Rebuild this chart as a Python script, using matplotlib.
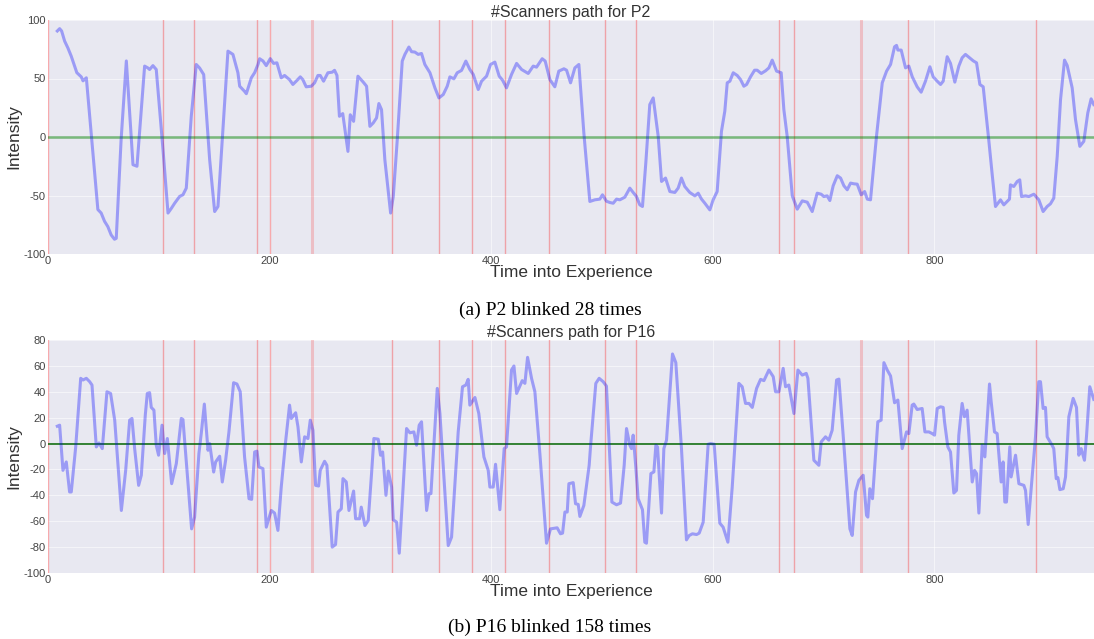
import matplotlib
matplotlib.use("Agg")
import matplotlib.pyplot as plt

plt.rcParams['font.family'] = ['Liberation Sans', 'DejaVu Sans']
plt.rcParams['axes.unicode_minus'] = False

# ---------------- data ----------------
blink_times = [0, 103.8, 131.7, 188.6, 200.3, 238.1, 310.4, 352.8, 382.6,
               412.3, 452.0, 502.6, 530.5, 659.6, 673.1, 733.6, 776.0, 891.4]
wide_blinks = [238.1, 733.6]

p2_t = [8.4, 10.5, 12.3, 15, 18, 21, 24, 26, 30, 31.6, 34.6, 39, 45, 48, 51, 54, 57, 60, 61.6,
        66, 70.7, 76.7, 80.3, 87.2, 90.2, 91.7, 94.7, 97.7, 103.8, 108.3, 111.3, 114.3, 118.8,
        121.8, 124.8, 129.3, 133.8, 136.8, 140.5, 145.9, 150.4, 153.4, 162.4, 166.9, 171.4, 173,
        177.4, 179, 183.5, 186.5, 189.5, 191, 194, 197, 200.6, 203.6, 206.6, 210.5, 213.5, 218,
        221, 224, 227.7, 230, 233, 237.6, 240.6, 243.6, 245.7, 248.7, 252.6, 256.5, 258.6, 260.8,
        263, 266, 270.7, 272.8, 275.8, 279.7, 284.5, 287.5, 290.5, 293.5, 296.5, 298.6, 301, 304,
        309.2, 311.6, 315.2, 319.7, 322.1, 325.7, 328.1, 331.1, 334.1, 337.1, 340.1, 344.7, 349.2,
        352.8, 356.7, 360.3, 362.7, 366.3, 369.3, 373.2, 377.1, 380.7, 383.8, 388.3, 391.3, 395.8,
        399.4, 403.3, 407.2, 410.2, 413.8, 418.3, 422.9, 427.4, 433.4, 437.9, 440.9, 446, 448.7,
        452.9, 457.4, 461, 465.6, 468, 471.6, 475.5, 479.1, 483.6, 489, 493.5, 498, 500.4, 504,
        507.1, 510.1, 513.1, 516.1, 520.6, 525.1, 528.1, 531.1, 534.1, 536.5, 539.5, 543.1, 546.2,
        550.7, 553.7, 557.3, 561.2, 565.7, 568.7, 571.7, 574.7, 579.2, 583.8, 586.8, 589.8, 592.8,
        597.3, 600.3, 603.9, 607.8, 610.8, 613, 615.4, 618.4, 622, 625, 628, 630.5, 634, 637.7,
        640, 643.7, 647.6, 650.6, 653.6, 655.1, 657.5, 661.7, 664.1, 667.1, 671.7, 676.2, 680.7,
        685.2, 689.7, 694.2, 697.8, 700.2, 703.2, 705.6, 708.6, 712.3, 715.3, 718.3, 721.3, 724.3,
        727.3, 730.3, 733.9, 737, 739.4, 742.3, 747.7, 752.9, 756.8, 760.4, 764, 765.8, 767, 770,
        773.9, 776.9, 780, 784.4, 788, 791.9, 795.9, 798.9, 802.5, 805.5, 807.9, 811.5, 814.5,
        818.4, 822, 825, 828, 832, 835, 838, 841, 844, 849, 852, 855.1, 859.6, 862.6, 865.6, 867.7,
        868.6, 871.6, 874.7, 877, 878.6, 882.2, 885.2, 889.7, 894.2, 898.1, 901.7, 904.7, 907.7,
        910.8, 913.8, 917.4, 919.8, 924.3, 927.3, 931.2, 934.8, 938.4, 941.4, 943.8]
p2_val = [90.6, 92.6, 90.6, 82, 76, 69, 60.6, 55, 51.4, 48, 50.6, 3.4, -62, -65, -72, -76.6, -83.7,
          -87.4, -86.6, -2, 65, -23.7, -25, 60.6, 59, 57.7, 61, 57.7, -11, -65, -61, -56.6, -50.8,
          -49.4, -43.7, 17.7, 62, 59, 53.4, -19.4, -63.7, -59.4, 73.4, 70.6, 54.9, 43.4, 39, 37,
          50.6, 55, 62, 66.9, 65, 61, 67, 62.9, 63.4, 50.6, 52.6, 49, 44.9, 47.7, 51.4, 49, 42.9,
          43.4, 46.3, 52.6, 52.6, 47.7, 54.9, 55.4, 57, 52.6, 17.7, 20, -12.3, 19, 13.4, 52, 46.9,
          43.4, 9.1, 12, 16.3, 28.6, 23.4, -19.4, -65, -50.9, -2.3, 64.9, 70.6, 76.9, 72.9, 72.6,
          70.6, 71.4, 62, 54.9, 42, 33.4, 36.3, 43.4, 51.4, 49.7, 54.9, 56.9, 64.9, 57.7, 53.4,
          40.6, 47.7, 52, 62, 64, 52, 48.6, 42, 53.4, 62.9, 57.7, 54.3, 60.6, 59.7, 66.9, 64.9,
          49.1, 42.9, 56.3, 58.3, 57.1, 46.3, 59.1, 62, 3.4, -55.1, -53.7, -53.1, -49.4, -54.9,
          -56, -56.6, -53.1, -53.7, -51.4, -43.7, -47.4, -50.9, -58, -59.4, -22.3, 27.7, 33.4, 0.6,
          -38, -35.1, -46.6, -47.4, -43.7, -35.1, -42.3, -47.4, -50.3, -48, -53.1, -56.6, -62.3,
          -53.7, -46.6, 4.9, 22, 46.3, 47.7, 54.9, 52.6, 49.1, 43.4, 44.9, 51.4, 57.1, 57.1, 54.3,
          56.6, 59.1, 65.7, 62, 56.3, 54.9, 23.4, 0.6, -50.3, -61.7, -54.6, -55.7, -63.7, -48,
          -48.9, -50.9, -50.3, -54.3, -41.7, -33.1, -35.1, -41.7, -45.1, -39.4, -40, -40.3, -49.4,
          -46.6, -53.1, -53.7, 0.6, 46.3, 56.3, 62, 77.1, 78.3, 74.3, 74.3, 59.1, 60.6, 51.4, 42.9,
          38.3, 47.7, 60, 51.4, 47.7, 44.9, 47.7, 68.6, 62.9, 46.9, 60.6, 67.7, 70.6, 67.4, 65.1,
          63.4, 44.9, 42.9, -2.3, -30.9, -59.4, -53.7, -58, -55.1, -53.1, -40.9, -42.3, -38, -36.6,
          -50.9, -50.3, -50.9, -48.9, -53.7, -63.7, -59.4, -57.1, -52.3, -16.6, 32, 65.7, 61.1, 42,
          14.9, -8, -3.7, 20.6, 32.6, 27.7]

p16_t = [8.4, 10.5, 13.5, 16.5, 19.5, 21, 25, 29.5, 31.6, 34.6, 37.6, 39.7, 43.6, 46, 49, 53.2,
         56.5, 60.2, 66.2, 70.1, 73.7, 75.8, 78.2, 81.8, 84.2, 87.8, 89.6, 91.7, 93.2, 95.6, 97.7,
         99.8, 102.9, 105.3, 107.7, 111.6, 115.8, 120.3, 121.8, 125.7, 129.6, 132.3, 136.2, 138.3,
         141.1, 144.4, 145.9, 149.5, 151.3, 154.9, 157.3, 160.3, 163.3, 167.5, 170.5, 173.5, 177.4,
         181.4, 183.8, 186.5, 188.6, 190.4, 194, 197, 201.5, 204.5, 207.5, 210.5, 214.4, 218,
         219.6, 223.5, 225.6, 228.6, 231.6, 234.6, 236.7, 239.1, 241.5, 244.2, 245.7, 249.6, 251.7,
         256.5, 259.5, 261.7, 264.7, 266.2, 269.2, 271.6, 275.8, 277.6, 281.2, 282.7, 286, 289, 292,
         294.1, 298, 300.1, 302, 305, 307.1, 310.1, 311.6, 314.6, 317, 323.6, 326.6, 330.2, 332.6,
         335, 337.1, 341.7, 343.8, 345.6, 351.3, 353.7, 361.2, 364.2, 370.2, 374.1, 377.1, 379.2,
         380.7, 385.3, 388.8, 393.4, 397.3, 398.8, 401.8, 403.9, 407.8, 411.7, 413.8, 418.3, 420.5,
         422.9, 428, 430.4, 432.8, 436.4, 439.4, 443.9, 449.9, 453.5, 459.5, 462.5, 464.4, 466.5,
         468.6, 470.1, 474, 476.1, 478.5, 480, 483.6, 488.4, 489.6, 494.4, 497.4, 501, 504, 508.9,
         513.1, 516.7, 520, 522.1, 525.1, 526.6, 528.1, 530.5, 532.6, 536.5, 538.6, 540.1, 544.1,
         546.8, 548.6, 550.1, 553.7, 555.8, 558.2, 563.6, 566.6, 571.7, 576.2, 578.6, 581.6, 585.3,
         587.7, 591.3, 595.8, 597.9, 601.2, 606.3, 609.3, 613.6, 617.5, 623.5, 626.5, 629.5, 632.6,
         635.6, 639.5, 643.1, 646.1, 650.6, 654.5, 656.6, 659.6, 663.5, 665.6, 668.6, 673.2, 676.8,
         680.7, 684.3, 685.8, 691.2, 695.7, 697.8, 701.7, 704.7, 707.7, 711.7, 713.8, 718.3, 723.7,
         725.8, 728.8, 731.8, 735.7, 738.7, 739.9, 741.7, 744.1, 748.9, 751.9, 754.4, 757.4, 760.4,
         764, 767, 770.9, 774.8, 776.9, 779.9, 781.4, 784.4, 788.9, 791.4, 795, 798, 800.1, 802.5,
         805.5, 807.9, 809.1, 812.1, 814.5, 817.5, 819.9, 822, 825, 827.1, 829.5, 834.1, 836.2, 838,
         840.1, 843.1, 845.5, 849.7, 851.2, 854.2, 856.6, 860.2, 862, 863.5, 865, 868, 869.2, 873.2,
         876.2, 880.7, 882.2, 884.6, 887.3, 891.2, 894.2, 895.7, 898.1, 900.2, 901.7, 906.2, 907.7,
         909.9, 911.4, 913.2, 916.2, 918.3, 921.3, 925.2, 928.2, 930.3, 932.4, 935.4, 937.2, 940.2,
         943.8]
p16_val = [13.4, 14.2, -20.7, -14.2, -37.4, -37.4, -2.6, 50.4, 49.1, 50.4, 47.8, 45.2, -2.6, 0.5,
           -3.9, 40, 38.7, 18.1, -51.7, -20.7, 18.1, 19.4, -3.9, -32.3, -24.5, 22, 38.7, 39.3, 27.9,
           25.8, -1.3, -9, 14.2, -7.7, 3.9, -31, -15.5, 19.4, 18.6, -23.2, -65.9, -56.8, -7.7, 7.7,
           30.5, -5.2, 0, -22, -14.2, -9.8, -29.7, -12.9, 9, 47, 46, 40, -10.3, -42.6, -43.1, -6.5,
           -5.9, -18.1, -19.4, -64.6, -51.7, -53.7, -67.1, -33.6, 1.3, 29.7, 19.4, 23.8, 12.9, -14.2,
           5.2, 3.9, 18.1, 10.3, -32.3, -32.8, -20.7, -13.7, -16.8, -80, -78, -52.9, -50.4, -27.1,
           -29.7, -51.7, -36.7, -58.1, -58.1, -49.1, -63.3, -59.4, -23.2, 3.9, 3.4, -9, -6.5, -40,
           -21.2, -33.6, -58.9, -60.7, -84.7, 11.6, 8.3, 9, -1.3, 14.2, 16.8, -51.7, -38.7, -38.7,
           42.6, 23.2, -78.8, -72.3, 9, 43.9, 45.2, 49.6, 29.7, 35.6, 23.2, -10.3, -20.7, -33.6,
           -33.6, -16, -51.1, -3.9, -2.6, 56.8, 59.9, 38.7, 48.6, 46.5, 66.6, 50.4, 40, -7.7, -77,
           -65.9, -65.1, -69.7, -69.2, -52.9, -52.9, -31, -30.2, -46.5, -47, -56.3, -47.8, -16.8,
           -2.6, 46.5, 50.4, 47.8, 44.4, -45.2, -47.3, -46, -16.8, 11.6, -1.3, -3.9, 6.5, -18.1,
           -42.6, -51.1, -76.2, -77, -23.2, -21.9, -1.3, -2.6, -53.7, -3.9, 2.6, 69.2, 62.5, -3.9,
           -74.4, -71.1, -69.7, -70.3, -69.2, -60.7, -0.5, 0, -0.5, -61.5, -64.6, -76.2, -33.6, 46.5,
           43.9, 31, 31, 27.9, 42.6, 49.6, 48.6, 56.8, 51.7, 40, 40, 58.1, 43.9, 45.2, 23.2, 56.8,
           52.9, 54.2, 50.4, -12.9, -16.8, 1.3, 5.2, 2.6, 10.3, 49.1, 49.8, -1.3, -65.9, -71, -37.4,
           -28.4, -24.5, -55.5, -56.8, -34.9, -42.6, 16.8, 18.1, 62.5, 56.8, 52.2, 31.5, 33.6, -3.9,
           9, 7.7, 29.7, 30.5, 26.3, 27.1, 9, 9, 7.7, 6.5, 27.1, 28.4, 27.9, 16.8, -2.6, -6.5, -38.2,
           -36.2, 6.5, 31, 20.7, 25.8, -29.7, -20.7, -23.2, -53.7, -1.3, -10.3, 46, 32.3, 9, 7.7,
           -29.7, -14.2, -45.2, -45.2, -2.6, -25.8, -9, -31, -32.3, -36.2, -62.5, -34.9, 5.2, 47.8,
           47.8, 27.1, 27.9, 5.2, -1.3, -3.9, -27.1, -26.3, -35.6, -34.9, -25.8, 20.7, 34.9, 27.9,
           -9, -3.9, -12.9, 5.2, 43.9, 34.1]

titles = ["#Scanners path for P2", "#Scanners path for P16"]
captions = ["(a) P2 blinked 28 times", "(b) P16 blinked 158 times"]
x_ticks = [0, 200, 400, 600, 800]
y_ticks_top = [-100, -50, 0, 50, 100]
y_ticks_bottom = [-100, -80, -60, -40, -20, 0, 20, 40, 60, 80]

# ---------------- figure ----------------
W, H = 1094, 639
fig = plt.figure(figsize=(W / 100, H / 100), dpi=100)

def px_axes(left, top, right, bottom):
    return fig.add_axes([left / W, 1 - bottom / H, (right - left) / W, (bottom - top) / H])

ax1 = px_axes(48, 20, 1094, 254)
ax2 = px_axes(48, 340, 1094, 573)

panels = [
    (ax1, p2_t, p2_val, y_ticks_top, (-100, 100), dict(color='green', lw=1.8, alpha=0.5)),
    (ax2, p16_t, p16_val, y_ticks_bottom, (-100, 80), dict(color='darkgreen', lw=1.1, alpha=1.0)),
]

for i, (ax, t, v, yt, ylim, hstyle) in enumerate(panels):
    ax.set_facecolor('#E8E8F1')
    for s in ax.spines.values():
        s.set_visible(False)
    ax.set_axisbelow(True)
    ax.grid(True, color='white', lw=0.8, alpha=0.55)
    for bt in blink_times:
        if bt in wide_blinks:
            ax.axvline(bt, color='red', lw=2.2, alpha=0.18, zorder=2)
        else:
            ax.axvline(bt, color='red', lw=1.0, alpha=0.3, zorder=2)
    ax.axhline(0, zorder=3, **hstyle)
    ax.plot(t, v, color='blue', lw=2.2, alpha=0.33, zorder=4)
    ax.set_xlim(0, 944)
    ax.set_ylim(*ylim)
    ax.set_xticks(x_ticks)
    ax.set_yticks(yt)
    ax.tick_params(length=0, labelsize=8, labelcolor='#444444', pad=1.5)
    ax.set_title(titles[i], fontsize=11.5, color='#333333', pad=2)
    ax.set_xlabel("Time into Experience", fontsize=12.5, color='#333333')
    ax.xaxis.set_label_coords(0.5, -0.078)
    ax.xaxis.label.set_va('center')
    ax.set_ylabel("Intensity", fontsize=12.5, color='#333333')
    ax.yaxis.set_label_coords(-0.0325, 0.5)
    ax.yaxis.label.set_va('center')

fig.text(550 / W, 1 - 310 / H, captions[0], ha='center', va='center',
         fontsize=14, family='Liberation Serif')
fig.text(550 / W, 1 - 627 / H, captions[1], ha='center', va='center',
         fontsize=14, family='Liberation Serif')

fig.savefig("out.png", dpi=100)
